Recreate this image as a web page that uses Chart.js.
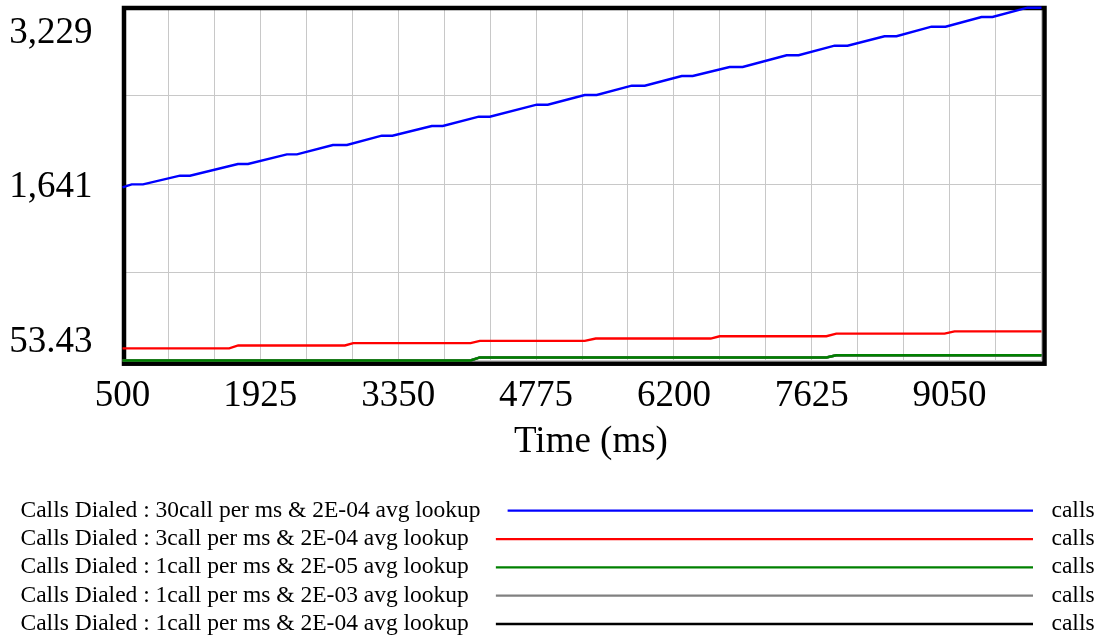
<!DOCTYPE html>
<html>
<head>
<meta charset="utf-8">
<title>Calls Dialed</title>
<script src="https://cdn.jsdelivr.net/npm/chart.js@4.4.1/dist/chart.umd.min.js"></script>
<style>
  html, body { margin: 0; padding: 0; background: #fff; }
  canvas { display: block; }
</style>
</head>
<body>
<canvas id="calls" width="1101" height="641"></canvas>
<script>
// time axis, ms
const xMin = 500;
const xMax = 10000;
const xGridStep = 475;
const xTickLabels = ['500', '1925', '3350', '4775', '6200', '7625', '9050'];
const xTitle = 'Time (ms)';

// value axis: only min, middle and max get a label
const yMin = 53.43;
const yMax = 3229;
const yTickLabels = ['53.43', '1,641', '3,229'];

const seriesNames = [
    'Calls Dialed : 30call per ms & 2E-04 avg lookup',
    'Calls Dialed : 3call per ms & 2E-04 avg lookup',
    'Calls Dialed : 1call per ms & 2E-05 avg lookup',
    'Calls Dialed : 1call per ms & 2E-03 avg lookup',
    'Calls Dialed : 1call per ms & 2E-04 avg lookup'
];
const seriesColors = ['#0000ff', '#ff0000', '#008000', '#808080', '#000000'];
const unitLabel = 'calls';

// 30 call per ms run
const fastTime = [500, 595, 712, 1094, 1197, 1693, 1797, 2199, 2303, 2675, 2820, 3180, 3290,
    3697, 3811, 4183, 4297, 4782, 4896, 5278, 5402, 5764, 5899, 6281, 6395, 6776, 6911,
    7365, 7489, 7861, 7995, 8377, 8501, 8863, 9008, 9380, 9493, 9855, 10000];
const fastCalls = [1612, 1639, 1639, 1717, 1717, 1822, 1822, 1909, 1909, 1993, 1993, 2077, 2077,
    2164, 2164, 2248, 2248, 2356, 2356, 2443, 2443, 2527, 2527, 2614, 2614, 2695, 2695,
    2801, 2801, 2887, 2887, 2972, 2972, 3058, 3058, 3145, 3145, 3229, 3229];

// 3 call per ms run
const midTime = [500, 1603, 1696, 2799, 2885, 4098, 4194, 5279, 5392, 6580, 6673, 7776, 7879, 8998, 9101, 10000];
const midCalls = [163, 163, 189, 189, 210, 210, 230, 230, 251, 251, 272, 272, 295, 295, 316, 316];

// 1 call per ms runs (the three lookups lie on top of each other)
const slowTime = [500, 4098, 4194, 7776, 7879, 10000];
const slowCalls = [53.43, 53.43, 81, 81, 101, 101];

function points(times, values) {
    return times.map((t, i) => ({ x: t, y: values[i] }));
}

const seriesData = [
    points(fastTime, fastCalls),
    points(midTime, midCalls),
    points(slowTime, slowCalls),
    points(slowTime, slowCalls),
    points(slowTime, slowCalls)
];

const serif = '"Liberation Serif", "Times New Roman", serif';

// heavy black box round the plot, under the lines
const framePlugin = {
    id: 'frame',
    beforeDatasetsDraw(chart) {
        const { ctx, chartArea: a } = chart;
        ctx.save();
        ctx.strokeStyle = '#000';
        ctx.lineWidth = 4.5;
        ctx.strokeRect(a.left + 1.5, a.top + 0.3, a.width + 1.5, a.height + 2.9);
        ctx.restore();
    }
};

// axis title and the legend table underneath
const captionPlugin = {
    id: 'captions',
    afterDraw(chart) {
        const { ctx, chartArea: a } = chart;
        ctx.save();
        ctx.fillStyle = '#000';
        ctx.textBaseline = 'alphabetic';
        ctx.textAlign = 'center';
        ctx.font = '37px ' + serif;
        ctx.fillText(xTitle, (a.left + a.right) / 2 + 9, 452);

        ctx.font = '23.5px ' + serif;
        chart.data.datasets.forEach((ds, i) => {
            const y = 510.7 + i * 28.33;
            ctx.textAlign = 'left';
            ctx.fillText(ds.label, 20.5, y + 6);
            const w = ctx.measureText(ds.label).width;
            ctx.strokeStyle = ds.borderColor;
            ctx.lineWidth = 2.3;
            ctx.beginPath();
            ctx.moveTo(20.5 + w + 27, y);
            ctx.lineTo(1033, y);
            ctx.stroke();
            ctx.fillText(unitLabel, 1051.5, y + 6);
        });
        ctx.restore();
    }
};

new Chart(document.getElementById('calls'), {
    type: 'line',
    data: {
        datasets: seriesData.map((d, i) => ({
            label: seriesNames[i],
            data: d,
            borderColor: seriesColors[i],
            backgroundColor: seriesColors[i],
            borderWidth: 2.4,
            pointRadius: 0,
            tension: 0,
            clip: 4
        }))
    },
    options: {
        responsive: false,
        devicePixelRatio: 1,
        animation: false,
        layout: { padding: { top: 7.7, right: 59.5, bottom: 220.5, left: 0 } },
        plugins: {
            legend: { display: false },
            tooltip: { enabled: false }
        },
        scales: {
            x: {
                type: 'linear',
                min: xMin,
                max: xMax,
                afterBuildTicks(scale) {
                    const ticks = [];
                    for (let v = xMin; v <= xMax; v += xGridStep) ticks.push({ value: v });
                    scale.ticks = ticks;
                },
                afterFit(scale) {
                    scale.height = 60;
                    scale.paddingLeft = 0;
                    scale.paddingRight = 0;
                },
                grid: { color: '#c8c8c8', lineWidth: 1, drawTicks: false },
                border: { display: false },
                ticks: {
                    autoSkip: false,
                    maxRotation: 0,
                    padding: 14,
                    color: '#000',
                    font: { family: serif, size: 37, lineHeight: 1.2 },
                    callback: (v, i) => (i % 3 === 0 ? xTickLabels[i / 3] : '')
                }
            },
            y: {
                type: 'linear',
                min: yMin,
                max: yMax,
                afterBuildTicks(scale) {
                    const step = (yMax - yMin) / 4;
                    scale.ticks = [0, 1, 2, 3, 4].map(k => ({ value: yMin + k * step }));
                },
                afterFit(scale) {
                    scale.width = 122.5;
                    scale.paddingTop = 0;
                    scale.paddingBottom = 0;
                },
                grid: { color: '#c8c8c8', lineWidth: 1, drawTicks: false },
                border: { display: false },
                ticks: {
                    autoSkip: false,
                    padding: 30,
                    labelOffset: 3.4,
                    color: '#000',
                    font: { family: serif, size: 37, lineHeight: 1.184 },
                    // an empty second line pushes the end labels inside the box
                    callback: (v, i) => {
                        if (i === 0) return [yTickLabels[0], ''];
                        if (i === 2) return yTickLabels[1];
                        if (i === 4) return ['', yTickLabels[2]];
                        return '';
                    }
                }
            }
        }
    },
    plugins: [framePlugin, captionPlugin]
});
</script>
</body>
</html>
